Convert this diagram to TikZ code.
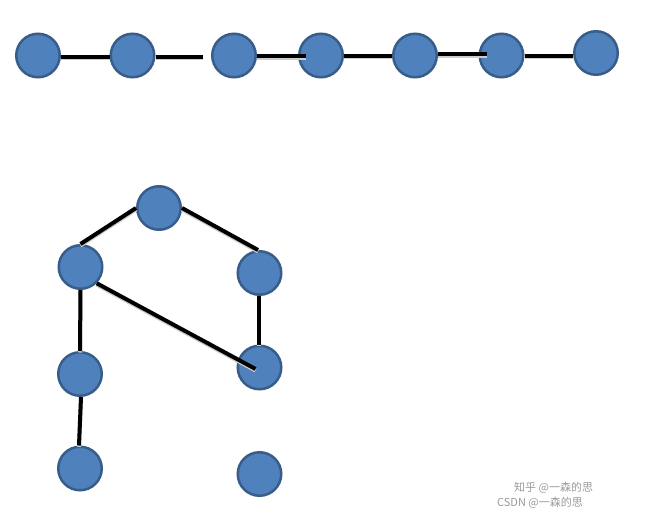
\documentclass[tikz,border=0pt]{standalone}
\usepackage{fontspec}
\newfontfamily\cjk{Noto Sans CJK SC}
\definecolor{fillblue}{HTML}{4F81BD}
\definecolor{edgeblue}{HTML}{385D8A}
\begin{document}
\begin{tikzpicture}[x=1pt,y=-1pt,
  vtx/.style={circle,fill=fillblue,draw=edgeblue,line width=2.5pt,minimum size=43.5pt,inner sep=0pt},
  link/.style={line width=4pt,black,
    preaction={draw=black!20,line width=4pt,transform canvas={yshift=-1.5pt}}},
  wmark/.style={text=black!40,font=\cjk\fontsize{11}{11}\selectfont,inner sep=0pt,anchor=west}]
\useasboundingbox (0,0) rectangle (651,514);
% top row
\node[vtx] (t1) at (38,55.5) {};
\node[vtx] (t2) at (132.5,55.5) {};
\node[vtx] (t3) at (234,55.5) {};
\node[vtx] (t4) at (321,55.5) {};
\node[vtx] (t5) at (415,55.5) {};
\node[vtx] (t6) at (501.5,55.5) {};
\node[vtx] (t7) at (596,53) {};
% lower graph
\node[vtx] (n1) at (159,208) {};
\node[vtx] (n2) at (80.5,267) {};
\node[vtx] (n3) at (259.5,273) {};
\node[vtx] (n4) at (80,374) {};
\node[vtx] (n5) at (259.5,367.5) {};
\node[vtx] (n6) at (80,468.5) {};
\node[vtx] (n7) at (259.5,474) {};
% top connectors
\draw[link] ([yshift=-1pt]t1.east) -- ([yshift=-1pt]t2.west);
\draw[link] ([yshift=-1pt]t2.east) -- ([xshift=-8pt,yshift=-1pt]t3.west);
\draw[link] ([yshift=-0.5pt]t3.east) -- ([xshift=-15pt,yshift=-0.5pt]t4.center);
\draw[link] (t4.east) -- (t5.west);
\draw[link] ([yshift=1.2pt]t5.east) -- ([xshift=-15pt,yshift=1.2pt]t6.center);
\draw[link] (t6.east) -- (t6.east -| t7.west);
% lower connectors
\draw[link] (n2.north) -- (n1.west);
\draw[link] (n1.east) -- ([xshift=-1.5pt]n3.north);
\draw[link] (n2.south) -- (n4.north);
\draw[link] (n2.-45) -- ([xshift=-4pt,yshift=-1.5pt]n5.center);
\draw[link] ([xshift=-1pt]n3.south) -- ([xshift=-1pt]n5.north);
\draw[link] ([xshift=1pt]n4.south) -- ([xshift=-1pt]n6.north);
% watermark
\node[wmark] (w1) at (514,488) {知乎 @一森的思};
\node[wmark] (w2) at (497,503) {CSDN @一森的思};
\end{tikzpicture}
\end{document}
